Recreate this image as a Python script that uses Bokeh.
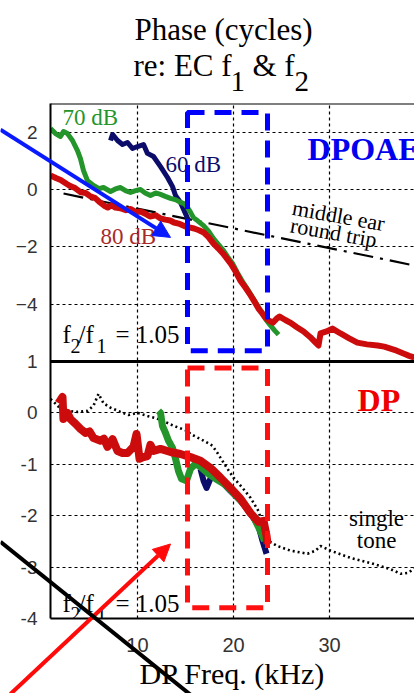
from bokeh.plotting import figure
from bokeh.layouts import column
from bokeh.models import (Range1d, FixedTicker, Grid, Span, Label, BoxAnnotation, Arrow,
                          NormalHead, Plot)
from bokeh.embed import file_html
from bokeh.resources import INLINE

# ---------------- data ----------------
x_ticks = [10, 20, 30]
upper_ticks = [2, 0, -2, -4]
lower_ticks = [1, 0, -1, -2, -3, -4]
lower_grid = [0, -1, -2, -3]

# DPOAE phase (cycles) vs DP frequency (kHz), f2/f1 = 1.05
oae80_f = [0.94, 1.5, 2.0, 2.6, 3.0, 3.5, 4.1, 4.6, 5.1, 5.6, 6.1, 6.6, 6.9, 7.3, 7.7,
           8.2, 8.8, 9.3, 9.8, 10.3, 10.8, 11.3, 11.9, 12.4, 12.9, 13.4, 13.8, 14.4,
           15.0, 15.5, 15.9, 16.4, 16.9, 17.4, 17.9, 18.4, 18.9, 19.3, 19.7, 20.2, 20.7,
           21.2, 21.8, 22.2, 22.6, 23.0, 23.3, 23.7, 24.1, 24.5, 24.8, 25.4, 25.9, 26.6,
           27.3, 28.0, 28.5, 28.85, 29.06, 29.7, 30.3, 31.15, 32.0, 32.9, 33.9, 35.0,
           35.7, 36.35, 37.0, 37.7, 38.3, 38.85]
oae80_ph = [0.49, 0.40, 0.33, 0.20, 0.12, 0.05, -0.10, -0.12, -0.24, -0.30, -0.45, -0.58,
            -0.63, -0.55, -0.63, -0.65, -0.72, -0.68, -0.78, -0.77, -0.84, -0.94, -0.90,
            -1.01, -1.05, -1.08, -1.15, -1.20, -1.29, -1.33, -1.36, -1.42, -1.50, -1.66,
            -1.88, -2.05, -2.23, -2.40, -2.58, -2.85, -3.17, -3.40, -3.70, -3.92, -4.15,
            -4.32, -4.46, -4.58, -4.64, -4.50, -4.43, -4.55, -4.64, -4.80, -4.95, -5.15,
            -5.32, -5.44, -5.02, -4.95, -4.85, -5.02, -5.18, -5.34, -5.40, -5.44, -5.48,
            -5.55, -5.62, -5.72, -5.80, -5.86]

oae70_f = [0.94, 1.46, 1.98, 2.29, 2.71, 3.23, 3.75, 4.06, 4.38, 4.79, 5.42, 6.0, 6.46,
           7.19, 7.7, 8.23, 8.8, 9.27, 9.8, 10.31, 10.8, 11.35, 11.9, 12.4, 12.9, 13.44,
           14.0, 14.48, 14.9, 15.21, 15.5, 15.83, 16.3, 16.88, 17.4, 17.92, 18.4, 18.96,
           19.4, 19.9, 20.4, 20.94, 21.5, 21.98, 22.5, 23.02, 23.4, 23.85, 24.3, 24.69]
oae70_ph = [2.13, 1.95, 1.85, 2.02, 1.95, 1.71, 1.36, 1.08, 0.66, 0.31, 0.14, 0.03, 0.07,
            -0.07, 0.02, 0.07, -0.05, -0.10, -0.04, 0.00, -0.12, -0.21, -0.12, -0.17,
            -0.24, -0.31, -0.36, -0.45, -0.50, -0.63, -0.78, -0.98, -1.10, -1.26, -1.45,
            -1.71, -1.90, -2.13, -2.35, -2.58, -2.90, -3.21, -3.50, -3.77, -4.05, -4.33,
            -4.55, -4.74, -4.92, -5.06]

oae60_f = [7.19, 7.40, 7.92, 8.44, 8.96, 9.48, 10.0, 10.63, 11.04, 11.67, 12.40, 13.13,
           13.65, 13.96, 14.48, 15.0, 15.31]
oae60_ph = [1.71, 1.92, 1.71, 1.57, 1.64, 1.43, 1.50, 1.57, 1.26, 1.15, 0.80, 0.42, 0.10,
            -0.21, -0.45, -0.84, -1.08]

# middle-ear round-trip phase
me_f = [2.3, 38.85]
me_ph = [-0.14, -2.65]

# DP (unmixed) phase
dp80_f = [1.77, 2.19, 2.29, 2.71, 3.02, 3.54, 4.06, 4.58, 5.0, 5.42, 6.15, 6.5, 6.88, 7.40,
          7.92, 8.44, 8.96, 9.58, 9.9, 10.21, 10.63, 11.04, 11.35, 11.67, 12.40, 13.44,
          14.48, 15.52, 16.56, 17.60, 18.65, 19.69, 20.73, 21.77, 22.6, 23.13, 23.44, 23.54]
dp80_ph = [0.19, 0.31, -0.12, 0.0, -0.12, -0.21, -0.31, -0.39, -0.36, -0.49, -0.54, -0.50,
           -0.66, -0.51, -0.74, -0.78, -0.78, -0.66, -0.41, -0.89, -0.86, -0.84, -0.62,
           -0.74, -0.70, -0.76, -0.80, -0.86, -0.93, -1.07, -1.26, -1.46, -1.67, -1.95,
           -2.12, -2.10, -2.39, -2.55]

dp70_f = [12.19, 12.40, 12.60, 12.92, 13.23, 13.65, 13.96, 14.27, 14.58, 15.1, 15.52,
          16.04, 16.56, 17.29, 18.13, 19.17, 20.21, 21.25, 22.08, 22.81, 23.23]
dp70_ph = [0.04, 0.0, -0.25, -0.39, -0.54, -0.68, -0.89, -1.13, -1.28, -1.32, -1.09,
           -0.99, -1.05, -1.17, -1.28, -1.40, -1.60, -1.81, -2.02, -2.30, -2.49]

dp60_f = [16.56, 16.88, 17.19, 17.6, 18.02, 18.65, 19.69, 20.73, 21.77, 22.6, 23.02, 23.44]
dp60_ph = [-1.09, -1.32, -1.46, -1.28, -1.21, -1.32, -1.52, -1.71, -1.96, -2.20, -2.49, -2.74]

# single-tone phase
st_f = [0.94, 1.46, 1.98, 2.71, 3.75, 4.79, 5.42, 5.94, 6.46, 7.19, 8.23, 9.06, 10.0,
        11.04, 11.88, 12.71, 13.75, 15.21, 15.52, 16.88, 17.81, 18.33, 19.17, 20.0, 20.94,
        21.77, 22.6, 23.13, 23.65, 24.58, 25.94, 27.71, 28.54, 29.06, 30.10, 32.19, 34.27,
        36.35, 37.40, 38.23, 38.85]
st_ph = [0.27, 0.18, 0.08, 0.04, 0.02, 0.04, 0.14, 0.37, 0.19, 0.10, 0.02, -0.04, 0.0,
         -0.06, -0.10, -0.16, -0.25, -0.35, -0.41, -0.54, -0.64, -0.78, -1.03, -1.26, -1.46,
         -1.65, -1.91, -2.24, -2.49, -2.59, -2.68, -2.74, -2.68, -2.59, -2.68, -2.82, -2.92,
         -3.04, -3.13, -3.11, -3.02]

# ---------------- layout constants ----------------
W, H = 414, 693
B_LEFT, B_TOP, B_BOTTOM = 50, 103, 75
X0, X1 = 0.94, 38.85            # frequency span of the frame
Y0, Y1 = -14.96, 3.0            # upper-panel scale, stretched over the whole frame
L0, L1 = -4.0, 6.02             # lower-panel scale, stretched over the whole frame

RED = "#cc0c0c"
GREEN = "#23952b"
NAVY = "#0c0c6a"
SERIF = "Liberation Serif"
SANS = "Liberation Sans"

p = figure(width=W, height=H, x_range=Range1d(X0, X1), y_range=Range1d(Y0, Y1),
           output_backend="svg", toolbar_location=None, min_border_left=B_LEFT,
           min_border_right=0, min_border_top=B_TOP, min_border_bottom=B_BOTTOM,
           outline_line_color=None, background_fill_color="white",
           border_fill_color="white")
p.extra_y_ranges = {"lower": Range1d(L0, L1)}


def lower_to_upper(v):
    """Position of a lower-panel value on the upper-panel scale."""
    return Y0 + (v - L0) * (Y1 - Y0) / (L1 - L0)


lower_pos = [lower_to_upper(v) for v in lower_ticks]

# axes
p.xaxis.ticker = FixedTicker(ticks=x_ticks)
p.xaxis.axis_label = "DP Freq. (kHz)"
p.xaxis.axis_label_text_font = SERIF
p.xaxis.axis_label_text_font_style = "normal"
p.xaxis.axis_label_text_font_size = "30px"
p.xaxis.axis_label_text_color = "black"
p.xaxis.axis_label_standoff = 2
p.xaxis.major_label_text_font = SANS
p.xaxis.major_label_text_font_size = "20px"
p.xaxis.major_label_text_color = "#333333"
p.xaxis.major_label_standoff = 19

# one left axis labels both panels
p.yaxis.ticker = FixedTicker(ticks=upper_ticks + lower_pos)
p.yaxis.major_label_overrides = {pos: str(v) for pos, v in zip(lower_pos, lower_ticks)}
p.yaxis.major_label_text_font = SANS
p.yaxis.major_label_text_font_size = "19px"
p.yaxis.major_label_text_color = "#333333"
p.yaxis.major_label_standoff = 13
for ax in (p.xaxis, p.yaxis):
    ax.axis_line_color = "black"
    ax.axis_line_width = 2
    ax.major_tick_in = 0
    ax.major_tick_out = 0
    ax.minor_tick_line_color = None

# grids
p.xgrid.ticker = FixedTicker(ticks=x_ticks)
p.ygrid.ticker = FixedTicker(ticks=upper_ticks)
for g in (p.xgrid, p.ygrid):
    g.grid_line_color = "black"
    g.grid_line_dash = "3 3"
    g.grid_line_width = 1.2
p.add_layout(Grid(dimension=1, ticker=FixedTicker(ticks=lower_grid), y_range_name="lower",
                  grid_line_color="black", grid_line_dash="3 3", grid_line_width=1.2))

# frame top and panel divider
p.add_layout(Span(location=Y1, dimension="width", line_color="black", line_width=2))
p.add_layout(Span(location=-6.0, dimension="width", line_color="black", line_width=3))

# upper panel curves
p.line(me_f, me_ph, line_color="black", line_width=2.2, line_dash="20 7 3 7")
p.line(oae60_f, oae60_ph, line_color=NAVY, line_width=5, line_join="round")
p.line(oae70_f, oae70_ph, line_color=GREEN, line_width=5, line_join="round")
p.line(oae80_f, oae80_ph, line_color=RED, line_width=6, line_join="round")

# lower panel curves
p.line(st_f, st_ph, y_range_name="lower", line_color="black", line_width=2.6,
       line_dash="2 3")
p.line(dp60_f, dp60_ph, y_range_name="lower", line_color=NAVY, line_width=6,
       line_join="round")
p.line(dp70_f, dp70_ph, y_range_name="lower", line_color=GREEN, line_width=7,
       line_join="round")
p.line(dp80_f, dp80_ph, y_range_name="lower", line_color=RED, line_width=8,
       line_join="round")


def txt(fig, x, y, text, size, color="black", rng="default", style="normal",
        align="left", baseline="alphabetic", dx=0, dy=0, angle=0.0):
    fig.add_layout(Label(x=x, y=y, text=text, x_offset=dx, y_offset=dy, angle=angle,
                         y_range_name=rng, text_font=SERIF, text_font_size=f"{size}px",
                         text_color=color, text_font_style=style, text_align=align,
                         text_baseline=baseline))


# curve labels
txt(p, 2.19, 2.51, "70 dB", 23, color=GREEN, baseline="middle")
txt(p, 12.92, 0.87, "60 dB", 23, color=NAVY, baseline="middle")
txt(p, 6.15, -1.64, "80 dB", 23, color="#a82a2a", baseline="middle")
txt(p, 27.71, 1.40, "DPOAE", 32, color="#0000ee", style="bold", baseline="middle")
txt(p, 32.92, 0.25, "DP", 32, color="#ee0000", style="bold", baseline="middle",
    rng="lower")
txt(p, 30.94, -0.91, "middle ear", 22, align="center", baseline="middle", angle=-0.175)
txt(p, 30.42, -1.50, "round trip", 22, align="center", baseline="middle", angle=-0.175)
txt(p, 34.9, -2.06, "single", 23, align="center", baseline="middle", rng="lower")
txt(p, 34.9, -2.49, "tone", 23, align="center", baseline="middle", rng="lower")

# f2/f1 ratio notes
for ax_y, rng in ((-5.06, "default"), (-3.70, "lower")):
    txt(p, 2.19, ax_y, "f", 25, rng=rng)
    txt(p, 2.19, ax_y, "2", 20, rng=rng, dx=8, dy=-11)
    txt(p, 2.19, ax_y, "/f", 25, rng=rng, dx=16)
    txt(p, 2.19, ax_y, "1", 20, rng=rng, dx=34, dy=-11)
    txt(p, 2.19, ax_y, "= 1.05", 25, rng=rng, dx=53)

# highlighted frequency band
p.add_layout(BoxAnnotation(left=15.21, right=23.54, top=2.69, bottom=-5.62,
                           fill_alpha=0, line_color="#0000ff", line_alpha=1,
                           line_width=5, line_dash="17 10"))
p.add_layout(BoxAnnotation(left=15.21, right=23.54, top=0.875, bottom=-3.79,
                           y_range_name="lower", fill_alpha=0, line_color="#ff1010",
                           line_alpha=1, line_width=5, line_dash="17 10"))

# ---- transparent overlay sharing the same data mapping over the whole canvas ----
px_x = (W - B_LEFT) / (X1 - X0)
px_y = (H - B_TOP - B_BOTTOM) / (Y1 - Y0)
px_l = (H - B_TOP - B_BOTTOM) / (L1 - L0)
o = figure(width=W, height=H, output_backend="svg", toolbar_location=None,
           x_range=Range1d(X0 - B_LEFT / px_x, X1),
           y_range=Range1d(Y0 - B_BOTTOM / px_y, Y1 + B_TOP / px_y),
           x_axis_location=None, y_axis_location=None, min_border=0,
           outline_line_color=None, background_fill_color=None, border_fill_color=None)
o.extra_y_ranges = {"lower": Range1d(L0 - B_BOTTOM / px_l, L1 + B_TOP / px_l)}
o.grid.visible = False
o.margin = (-H, 0, 0, 0)
# keep the two canvases independent (no shared frame edges)
if "frame_align" in Plot.properties():
    p.frame_align = False
    o.frame_align = False

# title (two lines, with subscripts)
txt(o, 18.96, 5.58, "Phase (cycles)", 31, align="center")
txt(o, 9.58, 4.33, "re: EC f", 31)
txt(o, 9.58, 4.33, "1", 29, dx=97, dy=-16)
txt(o, 9.58, 4.33, "& f", 31, dx=119)
txt(o, 9.58, 4.33, "2", 29, dx=161, dy=-16)

# pointers
o.add_layout(Arrow(x_start=-4.27, y_start=2.09, x_end=13.44, y_end=-1.67,
                   line_color="#0a1aff", line_width=4,
                   end=NormalHead(size=17, fill_color="#0a1aff", line_color="#0a1aff")))
o.add_layout(Arrow(x_start=-3.23, y_start=-5.47, x_end=13.44, y_end=-2.55,
                   y_range_name="lower", line_color="#ff0a0a", line_width=4,
                   end=NormalHead(size=17, fill_color="#ff0a0a", line_color="#ff0a0a")))
o.add_layout(Arrow(x_start=-4.27, y_start=-2.51, x_end=16.3, y_end=-5.6,
                   y_range_name="lower", line_color="black", line_width=4, end=None))

page = column(p, o, spacing=0)
open("out.html", "w").write(file_html(page, INLINE))
